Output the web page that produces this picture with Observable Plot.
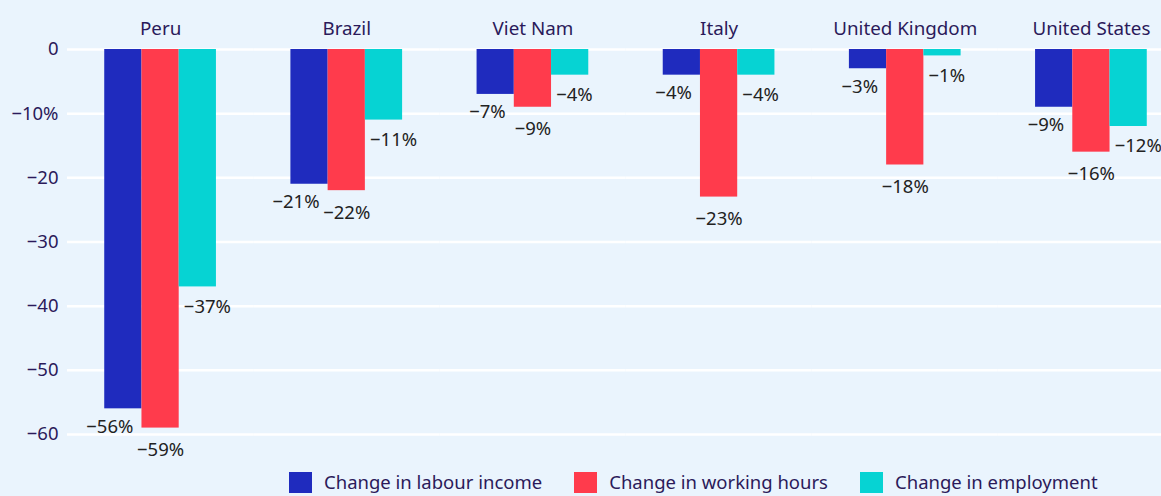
<!DOCTYPE html>
<html>
<head>
<meta charset="utf-8">
<script src="https://cdn.jsdelivr.net/npm/d3@7"></script>
<script src="https://cdn.jsdelivr.net/npm/@observablehq/plot@0.6"></script>
<style>
  html, body { margin: 0; padding: 0; background: #EAF4FD; overflow: hidden; width: 1161px; height: 496px; }
  #chart svg { display: block; background: #EAF4FD; }
  .legend { display: flex; align-items: center; padding-left: 289px; margin-top: 5px; font-family: "Noto Sans", sans-serif; font-size: 18.5px; line-height: 22px; color: #2B1A5A; white-space: nowrap; }
  .legend .item { display: flex; align-items: center; margin-right: 32px; }
  .legend .sw { width: 23px; height: 21px; margin-right: 12px; }
</style>
</head>
<body>
<div id="chart"></div>
<div class="legend" id="legend"></div>
<script>
const countries = ["Peru", "Brazil", "Viet Nam", "Italy", "United Kingdom", "United States"];
const seriesNames = ["Change in labour income", "Change in working hours", "Change in employment"];
const seriesColors = ["#1F2BBE", "#FF3B4C", "#06D3D3"];
const labourIncome = [-56, -21, -7, -4, -3, -9];
const workingHours = [-59, -22, -9, -23, -18, -16];
const employment   = [-37, -11, -4, -4, -1, -12];
const yTicks = [0, -10, -20, -30, -40, -50, -60];

const seriesValues = [labourIncome, workingHours, employment];
const data = [];
countries.forEach((c, i) => {
  seriesNames.forEach((s, j) => data.push({country: c, series: s, value: seriesValues[j][i]}));
});
const fmt = v => v === 0 ? "0" : "\u2212" + Math.abs(v) + "%";
const tickFmt = v => v === 0 ? "0" : v === -10 ? "\u221210%" : "\u2212" + Math.abs(v);

const font = "Noto Sans, sans-serif";
const plot = Plot.plot({
  width: 1161,
  height: 466,
  marginLeft: 67,
  marginRight: -23,
  marginTop: 49,
  marginBottom: 32,
  style: {fontFamily: font, fontSize: "18px", background: "#EAF4FD", overflow: "hidden"},
  fx: {domain: countries, padding: 0, round: false, label: null},
  x: {domain: seriesNames, paddingInner: 0, paddingOuter: 1, round: false, axis: null},
  y: {domain: [-60, 0], range: [434, 49], label: null},
  color: {domain: seriesNames, range: seriesColors},
  marks: [
    Plot.gridY(yTicks, {stroke: "#FFFFFF", strokeOpacity: 1, strokeWidth: 2.5}),
    Plot.axisY({ticks: yTicks, tickFormat: tickFmt, tickSize: 0, tickPadding: 9, fill: "#2B1A5A", fontSize: 18.5, label: null}),
    Plot.axisFx({anchor: "top", tickSize: 0, tickPadding: 15, fill: "#2B1A5A", fontSize: 18.8, label: null}),
    Plot.barY(data, {fx: "country", x: "series", y: "value", fill: "series"}),
    Plot.text(data.filter(d => d.series === seriesNames[0]), {fx: "country", x: "series", y: "value", text: d => fmt(d.value), textAnchor: "end", dx: 10, dy: 18, fill: "#222", fontSize: 18.5}),
    Plot.text(data.filter(d => d.series === seriesNames[1]), {fx: "country", x: "series", y: "value", text: d => fmt(d.value), textAnchor: "middle", dx: 0, dy: 22, fill: "#222", fontSize: 18.5}),
    Plot.text(data.filter(d => d.series === seriesNames[2]), {fx: "country", x: "series", y: "value", text: d => fmt(d.value), textAnchor: "start", dx: -14, dy: 20, fill: "#222", fontSize: 18.5})
  ]
});
document.getElementById("chart").appendChild(plot);

const legend = document.getElementById("legend");
seriesNames.forEach((s, i) => {
  const item = document.createElement("div");
  item.className = "item";
  const sw = document.createElement("div");
  sw.className = "sw";
  sw.style.background = seriesColors[i];
  const t = document.createElement("span");
  t.textContent = s;
  item.appendChild(sw); item.appendChild(t);
  legend.appendChild(item);
});
</script>
</body>
</html>
